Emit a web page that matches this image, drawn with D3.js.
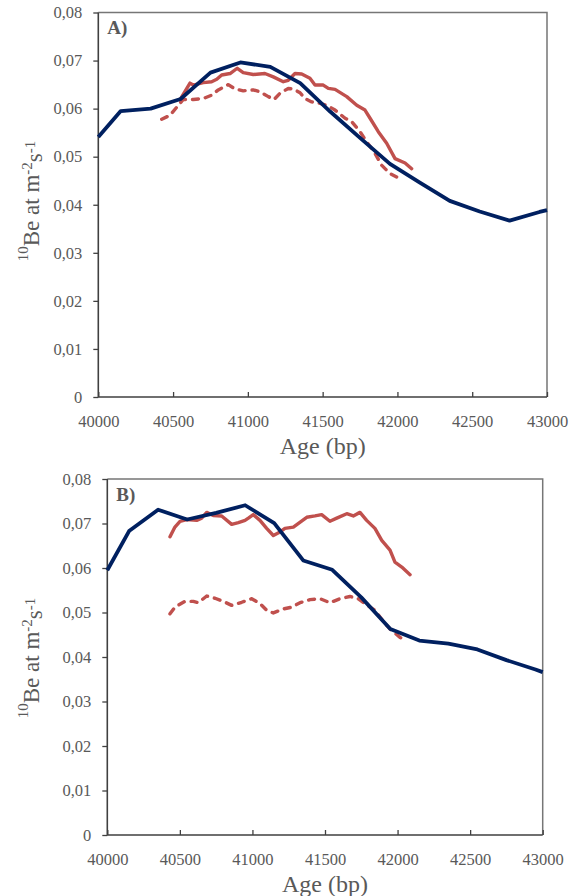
<!DOCTYPE html>
<html>
<head>
<meta charset="utf-8">
<script src="https://cdn.jsdelivr.net/npm/d3@7"></script>
<style>
  html, body { margin: 0; padding: 0; background: #ffffff; }
  svg { display: block; }
</style>
</head>
<body>
<svg id="chart" width="579" height="896"></svg>
<script>
// ---------- data ----------
const xTicks = [40000, 40500, 41000, 41500, 42000, 42500, 43000];
const yTicks = [0, 0.01, 0.02, 0.03, 0.04, 0.05, 0.06, 0.07, 0.08];
const panelLabels = ["A)", "B)"];

// navy (model) series ages shared by both panels
const navyAges = [40000, 40150, 40350, 40550, 40750, 40950, 41150, 41350, 41550, 41750, 41950, 42150, 42350, 42550, 42750, 42950, 43000];
const navyA = [0.0541, 0.0595, 0.0600, 0.0620, 0.0675, 0.0696, 0.0687, 0.0653, 0.0594, 0.0539, 0.0485, 0.0446, 0.0408, 0.0386, 0.0367, 0.0385, 0.0389];
const navyB = [0.0595, 0.0683, 0.0731, 0.0709, 0.0724, 0.0741, 0.0701, 0.0617, 0.0596, 0.0534, 0.0463, 0.0437, 0.0430, 0.0417, 0.0393, 0.0372, 0.0366];

// Panel A red solid
const solidAgesA = [40546, 40613, 40635, 40702, 40758, 40792, 40825, 40881, 40929, 40969, 41036, 41114, 41170, 41237, 41270, 41315, 41360, 41415, 41449, 41504, 41538, 41583, 41661, 41728, 41783, 41817, 41872, 41928, 41984, 42051, 42095];
const solidValsA = [0.0618, 0.0653, 0.0649, 0.0654, 0.0656, 0.0661, 0.0670, 0.0673, 0.0684, 0.0675, 0.0671, 0.0673, 0.0666, 0.0656, 0.0659, 0.0673, 0.0672, 0.0663, 0.0649, 0.0649, 0.0642, 0.0640, 0.0625, 0.0607, 0.0597, 0.0580, 0.0552, 0.0528, 0.0496, 0.0487, 0.0475];
// Panel A red dashed
const dashAgesA = [40424, 40479, 40535, 40568, 40635, 40702, 40758, 40802, 40869, 40914, 40969, 41036, 41081, 41137, 41175, 41215, 41270, 41304, 41349, 41382, 41427, 41471, 41527, 41583, 41650, 41694, 41750, 41794, 41850, 41895, 41950, 42006];
const dashValsA = [0.0578, 0.0586, 0.0607, 0.0619, 0.0619, 0.0621, 0.0628, 0.0639, 0.0650, 0.0641, 0.0637, 0.0639, 0.0635, 0.0625, 0.0619, 0.0632, 0.0642, 0.0641, 0.0633, 0.0621, 0.0614, 0.0612, 0.0607, 0.0597, 0.0580, 0.0573, 0.0552, 0.0531, 0.0507, 0.0482, 0.0465, 0.0456];

// Panel B red solid
const solidAgesB = [40432, 40466, 40501, 40547, 40616, 40650, 40685, 40730, 40788, 40857, 40903, 40949, 40972, 41006, 41052, 41098, 41144, 41190, 41224, 41282, 41374, 41431, 41477, 41534, 41581, 41650, 41695, 41741, 41787, 41844, 41891, 41948, 41982, 42029, 42086];
const solidValsB = [0.0670, 0.0692, 0.0705, 0.0709, 0.0707, 0.0712, 0.0725, 0.0718, 0.0717, 0.0698, 0.0702, 0.0707, 0.0712, 0.0720, 0.0707, 0.0689, 0.0673, 0.0681, 0.0689, 0.0692, 0.0714, 0.0717, 0.0720, 0.0705, 0.0712, 0.0722, 0.0717, 0.0725, 0.0707, 0.0689, 0.0662, 0.0640, 0.0613, 0.0602, 0.0585];
// Panel B red dashed
const dashAgesB = [40432, 40466, 40535, 40593, 40627, 40685, 40742, 40799, 40857, 40926, 40995, 41052, 41098, 41144, 41213, 41271, 41328, 41397, 41466, 41534, 41603, 41672, 41729, 41787, 41844, 41902, 41948, 42017, 42063];
const dashValsB = [0.0497, 0.0512, 0.0525, 0.0525, 0.0522, 0.0537, 0.0532, 0.0525, 0.0516, 0.0523, 0.0531, 0.0520, 0.0505, 0.0499, 0.0508, 0.0512, 0.0522, 0.0529, 0.0531, 0.0522, 0.0531, 0.0536, 0.0531, 0.0517, 0.0505, 0.0480, 0.0463, 0.0444, 0.0437];

// ---------- drawing ----------
const NAVY = "#002060";
const RED = "#c0504d";
const TEXT = "#595959";
const FONT = "'Liberation Serif', 'Times New Roman', serif";

const svg = d3.select("#chart");

const panels = [
  { label: panelLabels[0], left: 98.3, right: 547, top: 12.5, bottom: 397, titleY: 201, ageTitleY: 454,
    navy: navyA, sAges: solidAgesA, sVals: solidValsA, dAges: dashAgesA, dVals: dashValsA },
  { label: panelLabels[1], left: 107.3, right: 542.7, top: 479, bottom: 835, titleY: 658, ageTitleY: 892,
    navy: navyB, sAges: solidAgesB, sVals: solidValsB, dAges: dashAgesB, dVals: dashValsB }
];

const fmt = v => v === 0 ? "0" : d3.format(".2f")(v).replace(".", ",");

panels.forEach(p => {
  const x = d3.scaleLinear().domain([40000, 43000]).range([p.left, p.right]);
  const y = d3.scaleLinear().domain([0, 0.08]).range([p.bottom, p.top]);
  const g = svg.append("g");

  // plot box (top & right)
  g.append("path")
    .attr("d", `M${p.left},${p.top}H${p.right}V${p.bottom}`)
    .attr("fill", "none").attr("stroke", "#767676").attr("stroke-width", 1.5);

  // y axis
  const ya = g.append("g").attr("transform", `translate(${p.left},0)`)
    .call(d3.axisLeft(y).tickValues(yTicks).tickFormat(fmt).tickSize(5).tickPadding(11));
  ya.select(".domain").remove();
  ya.selectAll(".tick line").attr("stroke", "#404040").attr("stroke-width", 1.3);
  ya.selectAll(".tick text").attr("fill", TEXT).style("font-family", FONT).style("font-size", "16.5px");

  // x axis
  const xa = g.append("g").attr("transform", `translate(0,${p.bottom})`)
    .call(d3.axisBottom(x).tickValues(xTicks).tickFormat(d3.format("d")).tickSizeInner(-5).tickSizeOuter(0).tickPadding(18.5));
  xa.select(".domain").remove();
  xa.selectAll(".tick line").attr("stroke", "#404040").attr("stroke-width", 1.3);
  xa.selectAll(".tick text").attr("fill", TEXT).style("font-family", FONT).style("font-size", "16.5px");

  // axis lines (left & bottom)
  g.append("path")
    .attr("d", `M${p.left},${p.top}V${p.bottom}H${p.right}`)
    .attr("fill", "none").attr("stroke", "#404040").attr("stroke-width", 1.6);

  const line = d3.line().x(d => x(d[0])).y(d => y(d[1]));

  // red dashed
  g.append("path").datum(d3.zip(p.dAges, p.dVals))
    .attr("d", line).attr("fill", "none").attr("stroke", RED).attr("stroke-width", 3.4)
    .attr("stroke-dasharray", "6,7").attr("stroke-linecap", "round").attr("stroke-linejoin", "round");
  // red solid
  g.append("path").datum(d3.zip(p.sAges, p.sVals))
    .attr("d", line).attr("fill", "none").attr("stroke", RED).attr("stroke-width", 3.4)
    .attr("stroke-linecap", "round").attr("stroke-linejoin", "round");
  // navy
  g.append("path").datum(d3.zip(navyAges, p.navy))
    .attr("d", line).attr("fill", "none").attr("stroke", NAVY).attr("stroke-width", 3.8)
    .attr("stroke-linejoin", "round");

  // panel label
  g.append("text").attr("x", p.left + 9).attr("y", p.top + 21.5)
    .attr("fill", TEXT).style("font-family", FONT).style("font-size", "19px").style("font-weight", "bold")
    .text(p.label);

  // x title
  g.append("text").attr("x", (p.left + p.right) / 2).attr("y", p.ageTitleY)
    .attr("text-anchor", "middle").attr("fill", TEXT)
    .style("font-family", FONT).style("font-size", "24px")
    .text("Age (bp)");

  // y title
  const t = g.append("text")
    .attr("transform", `translate(35,${p.titleY}) rotate(-90)`)
    .attr("text-anchor", "middle").attr("fill", TEXT)
    .style("font-family", FONT).style("font-size", "23px");
  t.append("tspan").attr("dy", "-0.45em").style("font-size", "15px").text("10");
  t.append("tspan").attr("dy", "0.45em").text("Be at m");
  t.append("tspan").attr("dy", "-0.45em").style("font-size", "15px").text("-2");
  t.append("tspan").attr("dy", "0.45em").text("s");
  t.append("tspan").attr("dy", "-0.45em").style("font-size", "15px").text("-1");
});
</script>
</body>
</html>
